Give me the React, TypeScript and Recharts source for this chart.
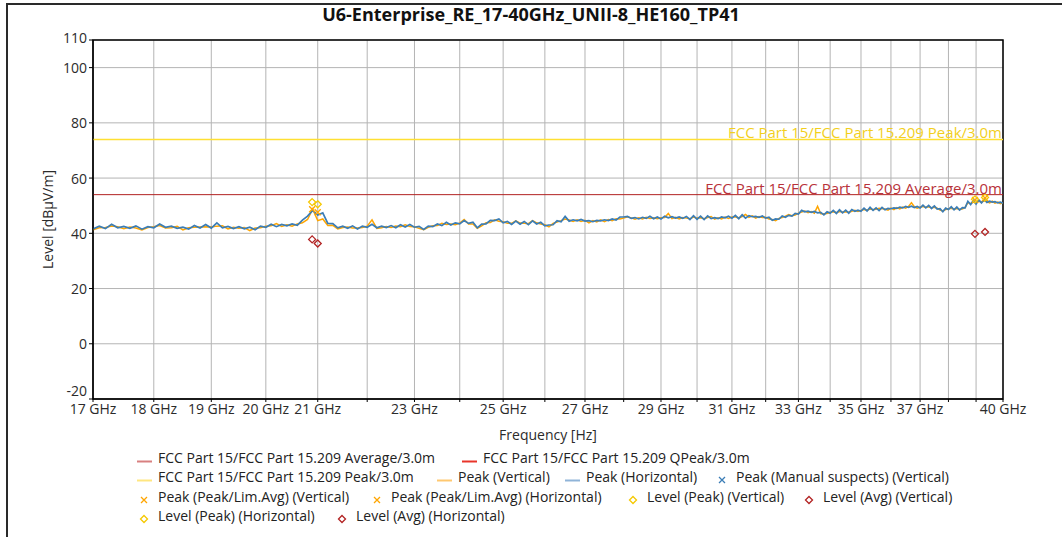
import React from 'react';
import { ComposedChart, Line, Scatter, XAxis, YAxis, CartesianGrid, ReferenceLine, ReferenceArea } from 'recharts';

document.body.style.margin = '0';

const FONT = '"Open Sans", "Noto Sans", sans-serif';

// sweep points (GHz)
const freqGHz = [
  17.0, 17.1, 17.2, 17.3, 17.4, 17.5, 17.6, 17.7, 17.8, 17.9,
  18.0, 18.1, 18.2, 18.3, 18.4, 18.5, 18.6, 18.7, 18.8, 18.9,
  19.0, 19.1, 19.2, 19.3, 19.4, 19.5, 19.6, 19.7, 19.8, 19.9,
  20.0, 20.1, 20.2, 20.3, 20.4, 20.5, 20.6, 20.7, 20.8, 20.9,
  21.0, 21.1, 21.2, 21.3, 21.4, 21.5, 21.6, 21.7, 21.8, 21.9,
  22.0, 22.1, 22.2, 22.3, 22.4, 22.5, 22.6, 22.7, 22.8, 22.9,
  23.0, 23.1, 23.2, 23.3, 23.4, 23.5, 23.6, 23.7, 23.8, 23.9,
  24.0, 24.1, 24.2, 24.3, 24.4, 24.5, 24.6, 24.7, 24.8, 24.9,
  25.0, 25.1, 25.2, 25.3, 25.4, 25.5, 25.6, 25.7, 25.8, 25.9,
  26.0, 26.1, 26.2, 26.3, 26.4, 26.5, 26.6, 26.7, 26.8, 26.9,
  27.0, 27.1, 27.2, 27.3, 27.4, 27.5, 27.6, 27.7, 27.8, 27.9,
  28.0, 28.1, 28.2, 28.3, 28.4, 28.5, 28.6, 28.7, 28.8, 28.9,
  29.0, 29.1, 29.2, 29.3, 29.4, 29.5, 29.6, 29.7, 29.8, 29.9,
  30.0, 30.1, 30.2, 30.3, 30.4, 30.5, 30.6, 30.7, 30.8, 30.9,
  31.0, 31.1, 31.2, 31.3, 31.4, 31.5, 31.6, 31.7, 31.8, 31.9,
  32.0, 32.1, 32.2, 32.3, 32.4, 32.5, 32.6, 32.7, 32.8, 32.9,
  33.0, 33.1, 33.2, 33.3, 33.4, 33.5, 33.6, 33.7, 33.8, 33.9,
  34.0, 34.1, 34.2, 34.3, 34.4, 34.5, 34.6, 34.7, 34.8, 34.9,
  35.0, 35.1, 35.2, 35.3, 35.4, 35.5, 35.6, 35.7, 35.8, 35.9,
  36.0, 36.1, 36.2, 36.3, 36.4, 36.5, 36.6, 36.7, 36.8, 36.9,
  37.0, 37.1, 37.2, 37.3, 37.4, 37.5, 37.6, 37.7, 37.8, 37.9,
  38.0, 38.1, 38.2, 38.3, 38.4, 38.5, 38.6, 38.7, 38.8, 38.9,
  39.0, 39.1, 39.2, 39.3, 39.4, 39.5, 39.6, 39.7, 39.8, 39.9, 40.0,
];

// Peak (Vertical) trace, dBµV/m
const peakVertical = [
  41.3, 42.0, 42.1, 42.6, 42.4, 41.7, 42.3, 41.9, 41.2, 42.1,
  42.4, 42.8, 41.9, 42.0, 42.5, 41.2, 42.0, 42.2, 42.3, 42.4,
  42.3, 42.6, 42.7, 41.6, 42.2, 41.8, 42.1, 41.0, 41.9, 42.0,
  42.6, 42.7, 43.5, 42.5, 43.1, 42.6, 43.4, 43.8, 45.0, 48.8,
  44.6, 45.2, 42.8, 42.9, 41.6, 42.1, 42.3, 41.9, 41.9, 42.1,
  42.6, 44.9, 41.8, 42.0, 42.5, 42.1, 42.6, 42.4, 43.1, 42.5,
  42.4, 41.8, 41.3, 42.2, 42.7, 42.8, 43.6, 43.2, 43.4, 43.1,
  43.7, 45.0, 43.4, 43.4, 41.8, 42.7, 43.8, 43.9, 44.9, 44.4,
  44.2, 43.6, 43.6, 44.5, 43.7, 43.6, 43.5, 44.6, 43.8, 43.4,
  43.1, 42.3, 43.6, 44.1, 44.6, 45.2, 44.8, 44.3, 44.9, 44.3,
  44.7, 43.8, 44.6, 44.1, 44.9, 44.2, 45.0, 44.6, 45.3, 45.2,
  45.5, 46.0, 45.6, 45.1, 45.6, 45.2, 45.8, 45.4, 45.6, 45.3,
  45.6, 45.7, 47.2, 45.3, 45.8, 45.2, 45.7, 45.5, 45.3, 45.9,
  45.5, 45.6, 45.3, 45.7, 46.1, 45.1, 45.6, 45.2, 45.9, 45.4,
  45.9, 45.9, 45.6, 46.1, 46.8, 45.8, 46.3, 45.5, 46.1, 45.7,
  45.8, 45.2, 45.0, 44.6, 45.4, 45.7, 46.2, 46.8, 46.4, 46.6,
  47.3, 47.7, 48.1, 47.5, 47.9, 47.3, 49.8, 47.1, 47.1, 47.2,
  47.6, 47.8, 47.5, 47.9, 47.7, 47.8, 47.6, 48.0, 48.3, 47.9,
  48.3, 48.6, 48.4, 48.8, 48.6, 48.7, 49.1, 48.9, 48.8, 48.4,
  49.1, 48.6, 49.3, 48.8, 49.5, 49.1, 49.7, 51.1, 49.6, 49.1,
  49.5, 49.7, 49.4, 49.6, 49.3, 49.4, 49.1, 48.4, 48.1, 48.6,
  48.9, 49.1, 48.8, 49.0, 48.7, 48.8, 49.4, 51.1, 50.7, 51.3,
  51.0, 51.6, 51.3, 51.8, 51.5, 51.0, 51.6, 50.9, 51.3, 50.7, 51.1,
];

// Peak (Horizontal) trace, dBµV/m
const peakHorizontal = [
  41.6, 42.6, 41.7, 43.3, 42.0, 42.5, 41.8, 42.7, 41.5, 42.4,
  42.0, 43.4, 42.2, 42.6, 41.8, 42.2, 41.5, 42.8, 41.9, 43.2,
  41.9, 43.8, 42.0, 42.5, 41.7, 42.4, 41.6, 42.2, 41.3, 42.6,
  42.2, 43.3, 42.4, 43.2, 42.7, 43.4, 42.9, 44.8, 46.2, 48.3,
  46.6, 47.4, 43.6, 43.5, 42.0, 42.6, 41.8, 42.7, 41.6, 42.6,
  42.2, 43.3, 42.0, 42.6, 42.1, 42.8, 42.0, 43.1, 42.3, 43.2,
  42.2, 42.5, 41.4, 42.6, 42.4, 43.4, 42.8, 44.0, 43.0, 43.8,
  43.4, 44.6, 43.6, 44.0, 42.0, 43.3, 43.4, 44.7, 44.6, 45.2,
  43.8, 44.3, 43.2, 44.4, 43.3, 44.3, 43.1, 44.5, 43.4, 44.0,
  42.7, 43.0, 43.1, 44.6, 44.2, 46.1, 44.4, 44.9, 44.5, 45.0,
  44.4, 44.6, 44.2, 44.7, 44.5, 44.9, 44.6, 45.2, 44.8, 45.9,
  45.9, 46.1, 45.4, 45.7, 45.2, 45.8, 45.4, 46.2, 45.3, 45.9,
  45.2, 46.2, 45.6, 46.0, 45.5, 45.9, 45.4, 46.1, 45.0, 46.4,
  45.1, 46.2, 45.0, 46.3, 45.3, 45.7, 45.3, 45.9, 45.6, 46.2,
  45.5, 46.5, 45.3, 46.7, 45.5, 46.4, 46.0, 46.1, 45.8, 46.3,
  45.5, 45.8, 44.7, 45.2, 45.1, 46.3, 45.8, 46.5, 46.2, 47.2,
  47.0, 48.3, 47.8, 48.0, 47.6, 47.9, 47.4, 47.6, 46.7, 47.8,
  47.3, 48.3, 47.2, 48.5, 47.4, 48.4, 47.3, 48.6, 48.0, 48.4,
  48.0, 49.1, 48.1, 49.4, 48.3, 49.2, 48.2, 49.4, 48.5, 49.0,
  48.9, 49.2, 49.0, 49.5, 49.2, 49.7, 49.4, 49.8, 49.3, 49.7,
  49.2, 50.2, 49.2, 50.1, 49.0, 49.9, 48.8, 48.9, 47.8, 49.1,
  48.6, 49.6, 48.5, 49.5, 48.4, 49.3, 49.2, 51.6, 50.4, 51.9,
  50.6, 52.1, 51.0, 52.3, 51.2, 51.6, 51.3, 51.5, 51.0, 51.3, 50.9,
];

// limits
const avgLimit = 54;
const peakLimit = 74;

// final measurement points
const levelPeakVertical = [{ freq: 20.89, level: 51.3 }, { freq: 39.33, level: 53.0 }];
const levelPeakHorizontal = [{ freq: 21.0, level: 50.5 }, { freq: 38.96, level: 52.3 }];
const levelAvgVertical = [{ freq: 20.89, level: 37.8 }, { freq: 39.33, level: 40.5 }];
const levelAvgHorizontal = [{ freq: 21.0, level: 36.3 }, { freq: 38.96, level: 39.8 }];
const peakLimAvgVertical = [{ freq: 20.89, level: 48.7 }, { freq: 39.33, level: 52.8 }];
const peakLimAvgHorizontal = [{ freq: 21.0, level: 47.6 }, { freq: 38.96, level: 52.1 }];

const xTicks = [17, 18, 19, 20, 21, 22, 23, 24, 25, 26, 27, 28, 29, 30, 31, 32, 33, 34, 35, 36, 37, 38, 39, 40];
const xLabels = [17, 18, 19, 20, 21, 23, 25, 27, 29, 31, 33, 35, 37, 40];
const yTicks = [-20, 0, 20, 40, 60, 80, 100, 110];

const C = {
  avg: '#b22222',
  qpeak: '#e8352a',
  peakLim: '#ffe033',
  peakV: '#ffa500',
  peakH: '#3b7db6',
  manual: '#3b7db6',
  lvlPeak: '#f5c800',
  lvlAvg: '#b22222',
};

const rows = freqGHz.map((f, i) => ({ freq: f, peakV: peakVertical[i], peakH: peakHorizontal[i] }));

const Diamond = ({ cx, cy, color }: any) => (
  <path d={`M${cx},${cy - 3.5} L${cx + 3.5},${cy} L${cx},${cy + 3.5} L${cx - 3.5},${cy} Z`} fill="none" stroke={color} strokeWidth={1.3} />
);
const Cross = ({ cx, cy, color }: any) => (
  <path d={`M${cx - 3},${cy - 3} L${cx + 3},${cy + 3} M${cx - 3},${cy + 3} L${cx + 3},${cy - 3}`} stroke={color} strokeWidth={1.3} />
);

const legendItems = [
  { label: 'FCC Part 15/FCC Part 15.209 Average/3.0m', kind: 'line', color: '#d88080' },
  { label: 'FCC Part 15/FCC Part 15.209 QPeak/3.0m', kind: 'line', color: C.qpeak },
  { label: 'FCC Part 15/FCC Part 15.209 Peak/3.0m', kind: 'line', color: '#ffe680' },
  { label: 'Peak (Vertical)', kind: 'line', color: '#ffc870' },
  { label: 'Peak (Horizontal)', kind: 'line', color: '#90b4d8' },
  { label: 'Peak (Manual suspects) (Vertical)', kind: 'cross', color: C.manual },
  { label: 'Peak (Peak/Lim.Avg) (Vertical)', kind: 'cross', color: C.peakV },
  { label: 'Peak (Peak/Lim.Avg) (Horizontal)', kind: 'cross', color: C.peakV },
  { label: 'Level (Peak) (Vertical)', kind: 'diamond', color: C.lvlPeak },
  { label: 'Level (Avg) (Vertical)', kind: 'diamond', color: C.lvlAvg },
  { label: 'Level (Peak) (Horizontal)', kind: 'diamond', color: C.lvlPeak },
  { label: 'Level (Avg) (Horizontal)', kind: 'diamond', color: C.lvlAvg },
];
// legend layout: [left, rowCenterY] per item
const legendPos = [
  [137, 457], [462, 457],
  [137, 476], [437, 476], [565, 476], [715, 476],
  [137, 496], [370, 496], [626, 496], [802, 496],
  [137, 515], [335, 515],
];

function LegendIcon({ kind, color }: { kind: string; color: string }) {
  return (
    <svg width={15} height={18} style={{ flex: 'none' }}>
      {kind === 'line' && <line x1={0} x2={15} y1={13.5} y2={13.5} stroke={color} strokeWidth={2} />}
      {kind === 'cross' && <Cross cx={7} cy={13} color={color} />}
      {kind === 'diamond' && <Diamond cx={7} cy={13} color={color} />}
    </svg>
  );
}

const YTick = ({ x, y, payload }: any) => {
  const dy = payload.value === -20 ? -9 : payload.value === 110 ? -3 : 0;
  return (
    <text x={x} y={y + dy} textAnchor="end" dominantBaseline="central" fill="#2b2b2b" fontSize={14} fontFamily={FONT}>
      {payload.value}
    </text>
  );
};

export default function App() {
  const tickStyle = { fill: '#2b2b2b', fontSize: 14, fontFamily: FONT };
  return (
    <div style={{ position: 'relative', width: 1062, height: 537, background: '#fff', overflow: 'hidden', fontFamily: FONT }}>
      <div style={{ position: 'absolute', left: 6, top: 3, width: 1100, height: 600, borderLeft: '2px solid #2a2a2a', borderTop: '2px solid #2a2a2a' }} />
      <div style={{ position: 'absolute', left: 0, width: 1062, top: 3, textAlign: 'center', fontSize: 18, lineHeight: '22px', fontWeight: 700, color: '#111' }}>
        U6-Enterprise_RE_17-40GHz_UNII-8_HE160_TP41
      </div>
      <div style={{ position: 'absolute', left: 0, top: 0 }}>
        <ComposedChart width={1062} height={537} data={rows} margin={{ top: 40, right: 59, bottom: 94, left: 43 }}>
          <CartesianGrid stroke="#b4b4b4" strokeWidth={1} />
          <XAxis
            dataKey="freq"
            type="number"
            scale="log"
            domain={[17, 40]}
            allowDataOverflow
            ticks={xTicks}
            interval={0}
            tickFormatter={(v) => (xLabels.includes(v) ? `${v} GHz` : '')}
            tick={tickStyle}
            tickSize={3}
            axisLine={{ stroke: '#000' }}
            tickLine={{ stroke: '#000' }}
            height={44}
            label={{ value: 'Frequency [Hz]', position: 'insideBottom', offset: 3, style: { fill: '#2b2b2b', fontSize: 14, fontFamily: FONT } }}
          />
          <YAxis
            type="number"
            domain={[-20, 110]}
            ticks={yTicks}
            interval={0}
            tick={<YTick />}
            tickSize={4}
            width={50}
            axisLine={{ stroke: '#000' }}
            tickLine={{ stroke: '#000' }}
            label={{
              content: ({ viewBox }: any) => (
                <text
                  x={0}
                  y={0}
                  transform={`translate(${viewBox.x + 4},${viewBox.y + viewBox.height / 2}) rotate(-90)`}
                  textAnchor="middle"
                  dominantBaseline="central"
                  fill="#2b2b2b"
                  fontSize={14}
                  fontFamily={FONT}
                >
                  Level [dBµV/m]
                </text>
              ),
            }}
          />
          <ReferenceLine
            y={peakLimit}
            stroke={C.peakLim}
            strokeWidth={1.5}
            label={{ value: 'FCC Part 15/FCC Part 15.209 Peak/3.0m', position: 'insideBottomRight', offset: 1, fill: '#f2cf1d', fontSize: 15, fontFamily: FONT }}
          />
          <ReferenceLine
            y={avgLimit}
            stroke={C.avg}
            strokeWidth={1}
            label={{ value: 'FCC Part 15/FCC Part 15.209 Average/3.0m', position: 'insideBottomRight', offset: 1, fill: '#b8323a', fontSize: 15, fontFamily: FONT }}
          />
          <Line type="linear" dataKey="peakV" stroke={C.peakV} strokeWidth={1.5} dot={false} isAnimationActive={false} />
          <Line type="linear" dataKey="peakH" stroke={C.peakH} strokeWidth={1.7} dot={false} isAnimationActive={false} />
          <Scatter data={peakLimAvgVertical} dataKey="level" isAnimationActive={false} shape={(p: any) => <Cross {...p} color={C.peakV} />} />
          <Scatter data={peakLimAvgHorizontal} dataKey="level" isAnimationActive={false} shape={(p: any) => <Cross {...p} color={C.peakV} />} />
          <Scatter data={levelPeakVertical} dataKey="level" isAnimationActive={false} shape={(p: any) => <Diamond {...p} color={C.lvlPeak} />} />
          <Scatter data={levelPeakHorizontal} dataKey="level" isAnimationActive={false} shape={(p: any) => <Diamond {...p} color={C.lvlPeak} />} />
          <Scatter data={levelAvgVertical} dataKey="level" isAnimationActive={false} shape={(p: any) => <Diamond {...p} color={C.lvlAvg} />} />
          <Scatter data={levelAvgHorizontal} dataKey="level" isAnimationActive={false} shape={(p: any) => <Diamond {...p} color={C.lvlAvg} />} />
          <ReferenceArea x1={17} x2={40} y1={-20} y2={110} fill="none" stroke="#000" strokeWidth={1.5} ifOverflow="visible" />
        </ComposedChart>
      </div>
      {legendItems.map((it, i) => (
        <div
          key={it.label}
          style={{ position: 'absolute', left: legendPos[i][0], top: legendPos[i][1] - 10, height: 20, display: 'flex', alignItems: 'center', fontSize: 14, color: '#222', whiteSpace: 'nowrap' }}
        >
          <LegendIcon kind={it.kind} color={it.color} />
          <span style={{ marginLeft: 6 }}>{it.label}</span>
        </div>
      ))}
    </div>
  );
}
